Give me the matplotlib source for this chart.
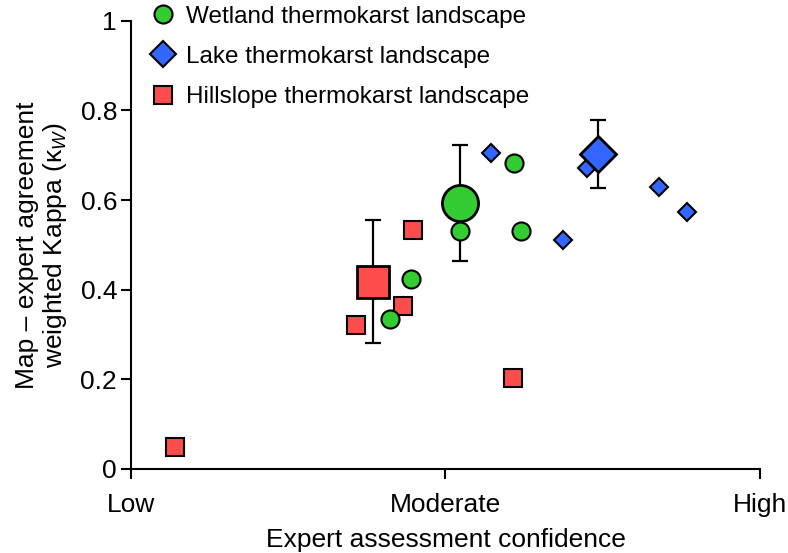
import matplotlib
matplotlib.use("Agg")
import matplotlib.pyplot as plt
from matplotlib.lines import Line2D

plt.rcParams["font.family"] = ["Liberation Sans", "DejaVu Sans"]
plt.rcParams["mathtext.fontset"] = "custom"
plt.rcParams["mathtext.rm"] = "Liberation Sans"
plt.rcParams["mathtext.it"] = "Liberation Sans:italic"

# confidence: 0 = Low, 1 = Moderate, 2 = High
hill_x = [0.14, 0.715, 0.866, 0.896, 1.214]
hill_y = [0.048, 0.321, 0.364, 0.533, 0.202]
wet_x = [0.825, 0.891, 1.046, 1.219, 1.239]
wet_y = [0.334, 0.424, 0.530, 0.682, 0.531]
lake_x = [1.146, 1.373, 1.449, 1.680, 1.767]
lake_y = [0.704, 0.511, 0.672, 0.630, 0.574]

# landscape means with error bars
hill_mean = (0.770, 0.418, 0.138)
wet_mean = (1.046, 0.593, 0.130)
lake_mean = (1.486, 0.702, 0.076)

xticks = [0, 1, 2]
xtick_labels = ["Low", "Moderate", "High"]
yticks = [0, 0.2, 0.4, 0.6, 0.8, 1]
ytick_labels = ["0", "0.2", "0.4", "0.6", "0.8", "1"]

RED, GREEN, BLUE = "#FF4D4D", "#33CC33", "#3366FF"
FS = 19

fig = plt.figure(figsize=(7.88, 5.53), dpi=100)
ax = fig.add_axes([0.1662, 0.1519, 0.7983, 0.8107])

for (mx, my, err) in (hill_mean, wet_mean, lake_mean):
    ax.errorbar(mx, my, yerr=err, fmt="none", ecolor="black", elinewidth=1.6,
                capsize=5.5, capthick=1.6, zorder=1)

ax.plot(hill_x, hill_y, ls="none", marker="s", ms=13, mfc=RED, mec="black", mew=1.5, zorder=2)
ax.plot(wet_x, wet_y, ls="none", marker="o", ms=13, mfc=GREEN, mec="black", mew=1.5, zorder=3)
ax.plot(lake_x, lake_y, ls="none", marker="D", ms=9.5, mfc=BLUE, mec="black", mew=1.5, zorder=4)

ax.plot(hill_mean[0], hill_mean[1], marker="s", ms=23, mfc=RED, mec="black", mew=2, zorder=5)
ax.plot(wet_mean[0], wet_mean[1], marker="o", ms=26, mfc=GREEN, mec="black", mew=2, zorder=5)
ax.plot(lake_mean[0], lake_mean[1], marker="D", ms=18, mfc=BLUE, mec="black", mew=2, zorder=5)

ax.set_xlim(0, 2)
ax.set_ylim(0, 1)
ax.set_xticks(xticks)
ax.set_xticklabels(xtick_labels)
ax.set_yticks(yticks)
ax.set_yticklabels(ytick_labels)
for s in ("top", "right"):
    ax.spines[s].set_visible(False)
for s in ("left", "bottom"):
    ax.spines[s].set_linewidth(1.5)
ax.tick_params(axis="both", labelsize=FS, length=7, width=1.5, direction="out")
ax.tick_params(axis="x", pad=10)
ax.tick_params(axis="y", pad=3)

ax.set_xlabel("Expert assessment confidence", fontsize=FS, labelpad=8)
ax.set_ylabel("Map \u2013 expert agreement\nweighted Kappa (\u03ba$_{W}$)", fontsize=FS,
              labelpad=8, linespacing=1.1)

handles = [
    Line2D([], [], ls="none", marker="o", ms=13, mfc=GREEN, mec="black", mew=1.5),
    Line2D([], [], ls="none", marker="D", ms=13, mfc=BLUE, mec="black", mew=1.5),
    Line2D([], [], ls="none", marker="s", ms=13, mfc=RED, mec="black", mew=1.5),
]
labels = ["Wetland thermokarst landscape", "Lake thermokarst landscape",
          "Hillslope thermokarst landscape"]
ax.legend(handles, labels, loc="upper left", bbox_to_anchor=(0.012, 1.055), frameon=False,
          fontsize=17.5, handletextpad=0.35, labelspacing=0.75, borderaxespad=0.0,
          handlelength=1.2)

fig.savefig("out.png", dpi=100)
